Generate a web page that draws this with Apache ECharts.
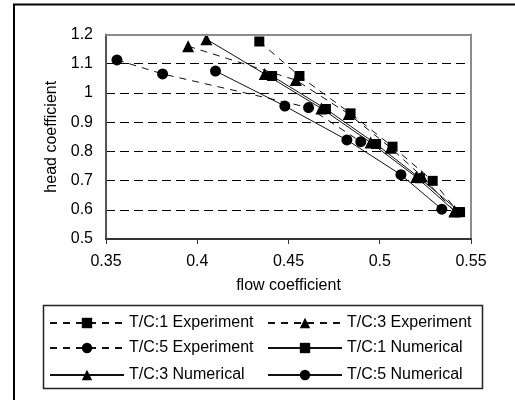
<!DOCTYPE html>
<html>
<head>
<meta charset="utf-8">
<script src="https://cdn.jsdelivr.net/npm/echarts@6/dist/echarts.min.js"></script>
<style>
  html, body { margin: 0; padding: 0; background: #fff; }
  #chart { width: 515px; height: 400px; }
</style>
</head>
<body>
<div id="chart"></div>
<script>
// axis ticks
var xTicks = [0.35, 0.4, 0.45, 0.5, 0.55];
var yTicks = [0.5, 0.6, 0.7, 0.8, 0.9, 1, 1.1, 1.2];

// T/C:1
var tc1ExpX = [0.434, 0.456, 0.484, 0.507, 0.529, 0.543];
var tc1ExpY = [1.176, 1.058, 0.930, 0.816, 0.699, 0.592];
var tc1NumX = [0.441, 0.4705, 0.498, 0.522, 0.544];
var tc1NumY = [1.058, 0.945, 0.825, 0.708, 0.592];
// T/C:3
var tc3ExpX = [0.395, 0.454, 0.483, 0.506, 0.523, 0.541];
var tc3ExpY = [1.160, 1.044, 0.928, 0.812, 0.715, 0.594];
var tc3NumX = [0.405, 0.437, 0.468, 0.495, 0.520, 0.541];
var tc3NumY = [1.184, 1.065, 0.947, 0.830, 0.712, 0.596];
// T/C:5
var tc5ExpX = [0.356, 0.381, 0.461, 0.4896];
var tc5ExpY = [1.113, 1.065, 0.950, 0.833];
var tc5NumX = [0.410, 0.448, 0.482, 0.5116, 0.534];
var tc5NumY = [1.075, 0.955, 0.839, 0.720, 0.602];

var seriesNames = ['T/C:1 Experiment', 'T/C:3 Experiment', 'T/C:5 Experiment',
                   'T/C:1 Numerical', 'T/C:3 Numerical', 'T/C:5 Numerical'];

var FONT = 'Liberation Sans, Arial, sans-serif';

function pairs(xs, ys) {
	var out = [];
	for (var i = 0; i < xs.length; i++) {
		out.push([xs[i], ys[i]]);
	}
	return out;
}

function makeSeries(name, xs, ys, symbol, size, dashed) {
	return {
		name: name,
		type: 'line',
		data: pairs(xs, ys),
		symbol: symbol,
		symbolSize: size,
		showAllSymbol: true,
		itemStyle: { color: '#000' },
		lineStyle: { color: '#111', width: 1, type: dashed ? [7, 6] : 'solid' },
		z: 3
	};
}

var series = [
	makeSeries(seriesNames[0], tc1ExpX, tc1ExpY, 'rect', 10, true),
	makeSeries(seriesNames[1], tc3ExpX, tc3ExpY, 'triangle', 12, true),
	makeSeries(seriesNames[2], tc5ExpX, tc5ExpY, 'circle', 11, true),
	makeSeries(seriesNames[3], tc1NumX, tc1NumY, 'rect', 10, false),
	makeSeries(seriesNames[4], tc3NumX, tc3NumY, 'triangle', 12, false),
	makeSeries(seriesNames[5], tc5NumX, tc5NumY, 'circle', 11, false)
];

// legend: 2 columns x 3 rows, one legend per item
var legendSpots = [[49, 315], [267, 315], [49, 340], [267, 340], [49, 367], [267, 367]];
var legends = [];
for (var k = 0; k < seriesNames.length; k++) {
	legends.push({
		data: [seriesNames[k]],
		left: legendSpots[k][0],
		top: legendSpots[k][1],
		padding: 0,
		itemWidth: 74,
		itemHeight: 13,
		selectedMode: false,
		textStyle: { fontFamily: FONT, fontSize: 16, color: '#000' }
	});
}

var xMin = xTicks[0], xMax = xTicks[xTicks.length - 1];
var yMin = yTicks[0], yMax = yTicks[yTicks.length - 1];

var option = {
	animation: false,
	backgroundColor: '#fff',
	grid: { left: 106, right: 44, top: 34.5, bottom: 161, show: false },
	legend: legends,
	xAxis: [{
		type: 'value', min: xMin, max: xMax, interval: 0.05,
		name: 'flow coefficient', nameLocation: 'middle', nameGap: 39,
		nameTextStyle: { fontFamily: FONT, fontSize: 16, color: '#000' },
		axisLine: { lineStyle: { color: '#333', width: 2 } },
		axisTick: { show: true, length: 5, lineStyle: { color: '#333' } },
		axisLabel: { fontFamily: FONT, fontSize: 16, color: '#000', margin: 15 },
		splitLine: { show: false },
		z: 5
	}, {
		type: 'value', min: xMin, max: xMax, position: 'top',
		axisLine: { lineStyle: { color: '#8c8c8c', width: 2 } },
		axisTick: { show: false }, axisLabel: { show: false }, splitLine: { show: false },
		z: 5
	}],
	yAxis: [{
		type: 'value', min: yMin, max: yMax, interval: 0.1,
		name: 'head coefficient', nameLocation: 'middle', nameGap: 45,
		nameTextStyle: { fontFamily: FONT, fontSize: 16, color: '#000' },
		axisLine: { show: true, lineStyle: { color: '#555', width: 2 } },
		axisTick: { show: false },
		axisLabel: { fontFamily: FONT, fontSize: 16, color: '#000', margin: 13 },
		splitLine: { show: true, lineStyle: { color: '#000', width: 1, type: [9, 5] } },
		z: 5
	}, {
		type: 'value', min: yMin, max: yMax, position: 'right',
		axisLine: { show: true, lineStyle: { color: '#8c8c8c', width: 2 } },
		axisTick: { show: false }, axisLabel: { show: false }, splitLine: { show: false },
		z: 5
	}],
	graphic: [{
		type: 'rect', silent: true, z: -1,
		shape: { x: 14, y: 4.5, width: 520, height: 420 },
		style: { fill: null, stroke: '#000', lineWidth: 2 }
	}, {
		type: 'rect', silent: true, z: -1,
		shape: { x: 43.5, y: 305.5, width: 439, height: 83 },
		style: { fill: null, stroke: '#222', lineWidth: 1.5 }
	}],
	series: series
};

var myChart = echarts.init(document.getElementById('chart'));
myChart.setOption(option);
</script>
</body>
</html>
